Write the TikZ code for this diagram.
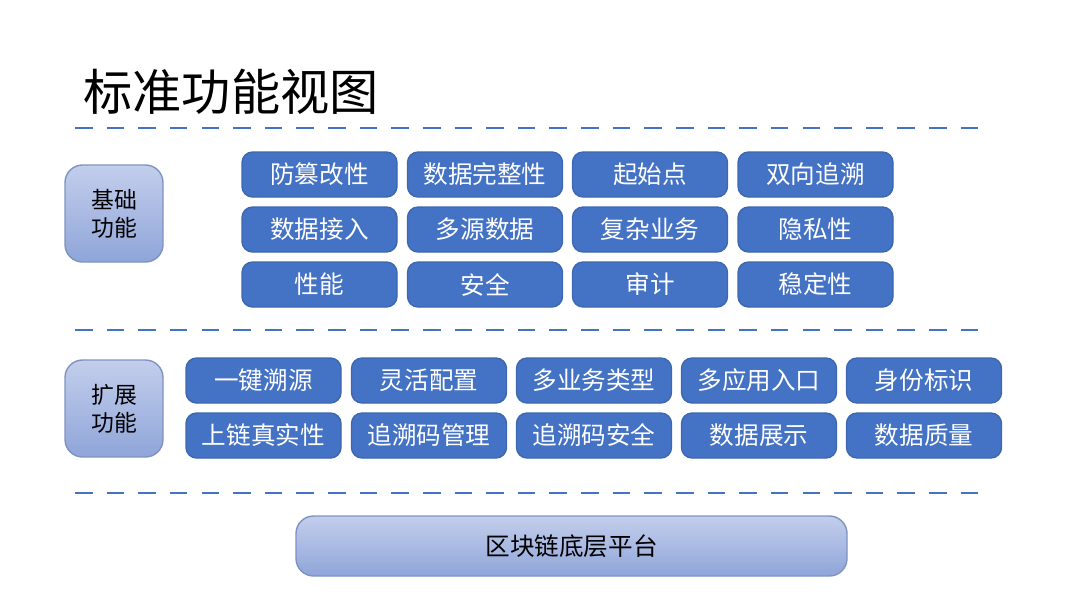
\documentclass[tikz,border=0pt]{standalone}
\usepackage{fontspec}
\setmainfont{Noto Sans CJK SC}
\usetikzlibrary{positioning,calc}

\definecolor{featblue}{HTML}{4472C4}
\definecolor{sidetop}{HTML}{C3CEEC}
\definecolor{sidebot}{HTML}{8FA5D9}
\definecolor{sideline}{HTML}{7F93C2}

\begin{document}
\begin{tikzpicture}[
    feat/.style={rectangle, rounded corners=3pt, fill=featblue, draw=featblue!90!black, text=white,
        minimum width=1.55cm, minimum height=0.45cm, inner sep=0pt, font=\fontsize{7}{8}\selectfont},
    side/.style={rectangle, rounded corners=5pt, top color=sidetop, bottom color=sidebot, draw=sideline,
        minimum width=0.98cm, minimum height=0.97cm, align=center, font=\fontsize{6.5}{8}\selectfont},
    sep/.style={draw=featblue, dashed, dash pattern=on 5pt off 4pt, line width=0.8pt}
]
\useasboundingbox (0,0) rectangle (10.8,6.08);

% Title
\node[font=\fontsize{14}{16}\selectfont] (title) at (2.31,5.16) {标准功能视图};

% Separators
\draw[sep] (0.75,4.80) -- (9.85,4.80);
\draw[sep] (0.75,2.78) -- (9.85,2.78);
\draw[sep] (0.75,1.15) -- (9.85,1.15);

% Basic functions
\node[side] (basic) at (1.14,3.945) {基础\\功能};
\node[feat] (b11) at (3.195,4.335) {防篡改性};
\node[feat] (b12) at (4.85,4.335) {数据完整性};
\node[feat] (b13) at (6.50,4.335) {起始点};
\node[feat] (b14) at (8.155,4.335) {双向追溯};
\node[feat] (b21) at (3.195,3.785) {数据接入};
\node[feat] (b22) at (4.85,3.785) {多源数据};
\node[feat] (b23) at (6.50,3.785) {复杂业务};
\node[feat] (b24) at (8.155,3.785) {隐私性};
\node[feat] (b31) at (3.195,3.235) {性能};
\node[feat] (b32) at (4.85,3.235) {安全};
\node[feat] (b33) at (6.50,3.235) {审计};
\node[feat] (b34) at (8.155,3.235) {稳定性};

% Extended functions
\node[side] (ext) at (1.14,1.995) {扩展\\功能};
\node[feat] (e11) at (2.635,2.275) {一键溯源};
\node[feat] (e12) at (4.29,2.275) {灵活配置};
\node[feat] (e13) at (5.94,2.275) {多业务类型};
\node[feat] (e14) at (7.59,2.275) {多应用入口};
\node[feat] (e15) at (9.24,2.275) {身份标识};
\node[feat] (e21) at (2.635,1.725) {上链真实性};
\node[feat] (e22) at (4.29,1.725) {追溯码管理};
\node[feat] (e23) at (5.94,1.725) {追溯码安全};
\node[feat] (e24) at (7.59,1.725) {数据展示};
\node[feat] (e25) at (9.24,1.725) {数据质量};

% Platform
\node[side, minimum width=5.51cm, minimum height=0.6cm, font=\fontsize{7}{8}\selectfont] (chain) at (5.715,0.62) {区块链底层平台};

\end{tikzpicture}
\end{document}
